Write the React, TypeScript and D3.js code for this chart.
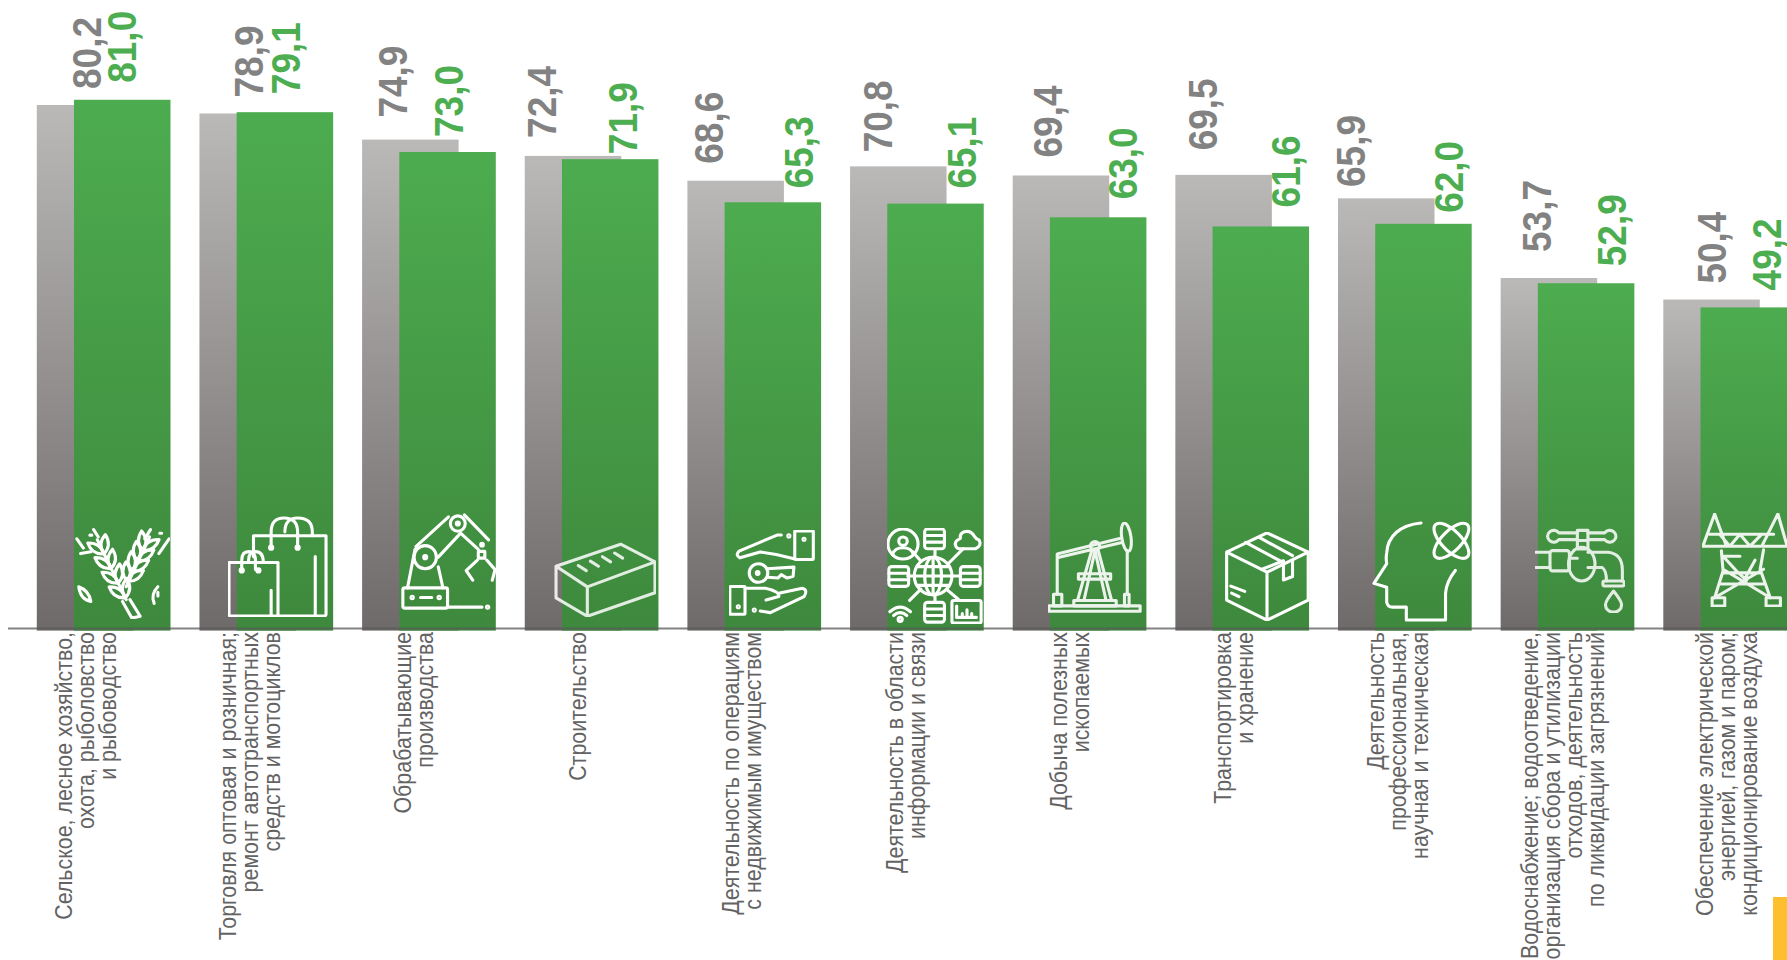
import React from "react";
import * as d3 from "d3";

const categoryLines: string[][] = [
  ["Сельское, лесное хозяйство,", "охота, рыболовство", "и рыбоводство"],
  ["Торговля оптовая и розничная;", "ремонт автотранспортных", "средств и мотоциклов"],
  ["Обрабатывающие", "производства"],
  ["Строительство"],
  ["Деятельность по операциям", "с недвижимым имуществом"],
  ["Деятельность в области", "информации и связи"],
  ["Добыча полезных", "ископаемых"],
  ["Транспортировка", "и хранение"],
  ["Деятельность", "профессиональная,", "научная и техническая"],
  ["Водоснабжение; водоотведение,", "организация сбора и утилизации", "отходов, деятельность", "по ликвидации загрязнений"],
  ["Обеспечение электрической", "энергией, газом и паром;", "кондиционирование воздуха"],
];
const grayValues = [80.2, 78.9, 74.9, 72.4, 68.6, 70.8, 69.4, 69.5, 65.9, 53.7, 50.4];
const greenValues = [81.0, 79.1, 73.0, 71.9, 65.3, 65.1, 63.0, 61.6, 62.0, 52.9, 49.2];

// label placement, separate from the values
const grayLabelDx = [49.8, 49, 31, 16.6, 21.5, 27.6, 34.7, 27, 12.6, 35.6, 48.6];
const greenLabelDx = [85.1, 86.5, 87, 97.5, 111.5, 112, 110, 110, 110.6, 111, 103];
const grayLabelGap = [16, 16, 22, 18, 17, 14, 18, 24.5, 11.4, 26, 16];
const greenLabelGap = [17, 18, 15, 5, 14, 15, 18, 19, 11, 17, 17];

const W = 1787, H = 960;
const idx = d3.range(categoryLines.length);
const x = d3.scaleBand<number>().domain(idx).range([36.8, 36.8 + 162.65 * 10 + 96.5]).paddingInner(1 - 96.5 / 162.65).paddingOuter(0).align(0);
const labelX = d3.scalePoint<number>().domain(idx).range([85.4, 1726.4]);
const y = d3.scaleLinear().domain([0, 80.2]).range([628.6, 105]);
const fmt = d3.formatLocale({ decimal: ",", thousands: " ", grouping: [3], currency: ["", ""] }).format(".1f");
const GREEN_SHIFT = 37.2, BAR_OVERHANG = 2;

const L = (p: string) => <path d={p} />;

const wheatGrains = (x0: number, y0: number, x1: number, y1: number, flip: number) => {
  const ang = (Math.atan2(y1 - y0, x1 - x0) * 180) / Math.PI;
  return d3.range(4).flatMap((i) => {
    const t = i / 3.4;
    const px = x0 + (x1 - x0) * t, py = y0 + (y1 - y0) * t;
    return [-1, 1].map((s) => (
      <path key={`${i}${s}${flip}`} d="M0 0Q10 -8 21 0Q10 8 0 0Z" transform={`translate(${px} ${py}) rotate(${ang + s * 30})`} />
    ));
  });
};

const icons: React.ReactNode[] = [
  <>
    {L("M50 82L60 100L69 98L58 80M54 80L23 15M54 66L79 12")}
    {wheatGrains(53, 78, 27, 24, 0)}
    {wheatGrains(55, 60, 74, 22, 1)}
    <path d="M3 66Q14 70 16 82Q5 80 3 66Z" />
    {L("M88 66Q80 74 84 84M88 72L88 76")}
    {L("M1 14L8 24M19 4L24 12M5 30L16 28M100 14L89 30M80 4L74 14M90 8H92M15 10H17")}
  </>,
  <>
    {L("M25 40V19H99V98Q99 100 97 100H2Q0 100 0 98V46H50V100M43 74V100M88 40V100M0 60V46")}
    {L("M43 30V15Q43 1 56 1Q70 1 70 15V30M57 15Q57 1 70 1Q85 1 85 15V19")}
    {L("M13 53V44Q13 35 20 35Q27 35 27 44V53M20 44Q20 35 27 35Q35 35 35 46")}
    <circle cx={43} cy={31} r={1.6} /><circle cx={70} cy={31} r={1.6} /><circle cx={13} cy={54} r={1.6} /><circle cx={30} cy={54} r={1.6} />
  </>,
  <>
    <rect x={1} y={78} width={48} height={21} rx={2} />
    {L("M49 98H86M6 78L14 38M39 56L44 78M15 35L50 4M39 46L63 21M67 2L93 28M63 21L82 38M20 88H32")}
    <circle cx={25} cy={46} r={12} /><circle cx={25} cy={46} r={1.6} />
    <circle cx={60} cy={11} r={8} /><circle cx={60} cy={11} r={1.6} />
    <circle cx={92} cy={98} r={1.2} /><circle cx={11} cy={88} r={1.2} /><circle cx={40} cy={88} r={1.2} /><circle cx={86} cy={33} r={1.4} />
    <rect x={82} y={40} width={7} height={7} />
    {L("M81 49L69 60L76 70M91 49L100 59L97 70")}
  </>,
  <g opacity={0.85}>
    {L("M2 32L66 2L100 26L33 60ZM2 32V75L33 100L100 68V26M33 60V100")}
    {L("M24 31L32 38M36 25L44 32M48 19L56 26M60 14L68 21")}
  </g>,
  <>
    <rect x={77} y={0} width={22} height={34} rx={1} /><circle cx={88} cy={10} r={1.2} /><circle cx={70} cy={6} r={1.2} />
    {L("M61 5H56L11 24Q6 29 12 32L36 25L55 28L76 33")}
    <circle cx={34} cy={50} r={11} /><circle cx={33} cy={50} r={1.6} />
    {L("M44 45L76 43L75 54L68 56L61 52L57 56L45 55")}
    <rect x={0} y={66} width={18} height={33} rx={1} /><circle cx={10} cy={90} r={1.2} /><circle cx={29} cy={94} r={1.2} />
    {L("M18 68H42Q60 72 58 78L43 82M58 74L86 68Q93 70 88 78L48 97L36 95")}
  </>,
  <>
    <circle cx={48} cy={50} r={20} /><ellipse cx={48} cy={50} rx={9} ry={20} />
    {L("M28 50H68M31 40H65M31 60H65M48 30V70")}
    <circle cx={16} cy={16} r={16} /><circle cx={16} cy={13} r={4.5} />
    {L("M5 27Q7 20 16 20Q25 20 27 27")}
    {[[39, 0], [1, 40], [77, 40], [39, 78]].map(([a, b], i) => (
      <g key={i}><rect x={a} y={b} width={21} height={21} rx={3} />{L(`M${a} ${b + 7}h21M${a} ${b + 14}h21`)}</g>
    ))}
    {L("M76 21H93Q100 18 97 12Q93 10 92 8Q88 1 81 3Q76 5 77 10Q70 13 72 18Q73 21 76 21Z")}
    <rect x={68} y={76} width={31} height={24} rx={2} />
    {L("M73 82V94H94M79 90V94M84 86V94M89 90V94")}
    {L("M26 24L35 34M80 21L64 37M50 22V30M21 50H28M68 50H77M50 70V78M35 64L23 76M62 64L75 75")}
    {L("M2 88Q13 78 24 88M6 92Q13 86 20 92")}
    <circle cx={13} cy={96} r={2.2} />
  </>,
  <g opacity={0.9}>
    <rect x={0} y={93} width={99} height={6} /><rect x={27} y={87} width={46} height={6} />
    <rect x={5} y={80} width={9} height={13} /><rect x={82} y={80} width={5} height={13} />
    {L("M85 31V80M9 35V80M9 35L79 17M9 39L79 22M47 29L31 87M53 29L68 87M50 31L38 87M50 31L62 87")}
    <ellipse cx={84} cy={16} rx={5} ry={16} transform="rotate(-8 84 16)" />
    <circle cx={50} cy={26} r={5} /><rect x={32} y={57} width={35} height={6} />
  </g>,
  <>
    {L("M50 0L100 22V77L50 100L1 77V22ZM1 22L50 45L100 22M50 45V100M43 42L70 32M24 11L70 34M40 5L81 26M70 36V54L81 50V32")}
    {L("M6 61L23 67M7 69L16 73")}
  </>,
  <>
    {L("M49 1C28 3 15 14 14 31Q13 37 14 42L1 62L14 66V81Q15 86 20 86H34V99H74V72Q75 60 84 49")}
    <ellipse cx={80} cy={19} rx={23} ry={10} transform="rotate(45 80 19)" />
    <ellipse cx={80} cy={19} rx={23} ry={10} transform="rotate(-45 80 19)" />
  </>,
  <g opacity={0.85}>
    {L("M0 29H16M0 47H16M38 36H47M57 15H59M47 15V25H59V15M59 29H82Q98 31 98 50V63M59 47H75Q80 50 80 63")}
    <rect x={16} y={27} width={22} height={24} rx={3} />
    <ellipse cx={52} cy={43} rx={15} ry={20} />
    <rect x={47} y={3} width={12} height={12} />
    {L("M47 6H26A7 7 0 1 0 26 14H47M59 6H78A7 7 0 1 1 78 14H59")}
    <rect x={76} y={63} width={24} height={6} rx={2} />
    {L("M88 75Q78 88 79 92A9 8 0 0 0 97 92Q98 88 88 75Z")}
  </g>,
  <g opacity={0.9}>
    {L("M0 35H100M14 0L0 35M14 0L28 35M89 0L100 35M89 0L70 35M8 22H84M20 22L32 35L44 22L56 35L70 22")}
    {L("M22 40L24 62L14 91M72 39L68 60L80 91M24 60L80 91M72 60L14 91M24 46L40 62L52 72M62 50L50 70M24 46H44M24 64H68M20 76H72")}
    <rect x={11} y={91} width={15} height={9} /><rect x={75} y={91} width={17} height={9} />
  </g>,
];
// where each icon sits: left, top, width, height
const iconBoxes = [
  [75, 525, 95, 94], [228, 516, 100, 101], [401, 512, 95, 98], [553, 542, 103, 75],
  [729, 530, 86, 86], [887, 528, 96, 96], [1048, 522, 94, 91], [1225, 532, 84, 89],
  [1372, 521, 100, 101], [1535, 527, 90, 86], [1702, 513, 86, 94],
];

export default function App() {
  return (
    <svg width={W} height={H} viewBox={`0 0 ${W} ${H}`} style={{ position: "fixed", left: 0, top: 0, background: "#fff" }}>
      <style>{`.ic *{vector-effect:non-scaling-stroke}`}</style>
      <defs>
        <linearGradient id="gGray" x1="0" y1="0" x2="0" y2="1">
          <stop offset="0" stopColor="#bab9b7" /><stop offset="1" stopColor="#6f6a6a" />
        </linearGradient>
        <linearGradient id="gGreen" x1="0" y1="0" x2="0" y2="1">
          <stop offset="0" stopColor="#4dac4f" /><stop offset="1" stopColor="#3e893d" />
        </linearGradient>
      </defs>
      {idx.map((i) => (
        <rect key={i} x={x(i)!} y={y(grayValues[i])} width={x.bandwidth()} height={y(0) - y(grayValues[i]) + BAR_OVERHANG} fill="url(#gGray)" />
      ))}
      {idx.map((i) => (
        <rect key={i} x={x(i)! + GREEN_SHIFT} y={y(greenValues[i])} width={x.bandwidth()} height={y(0) - y(greenValues[i]) + BAR_OVERHANG} fill="url(#gGreen)" />
      ))}
      <line x1={8} x2={W} y1={y(0)} y2={y(0)} stroke="#595959" strokeOpacity={0.75} strokeWidth={2} />
      {idx.map((i) => {
        const [a, b, w, h] = iconBoxes[i];
        return (
          <svg key={i} className="ic" x={a} y={b} width={w} height={h} viewBox="-1 -1 102 102" preserveAspectRatio="none" fill="none" stroke="#fff" strokeWidth={3.1} strokeLinecap="round" strokeLinejoin="round">
            {icons[i]}
          </svg>
        );
      })}
      <g fontFamily="'Liberation Sans', Arial, sans-serif" fontWeight={700} fontSize={37}>
        {idx.map((i) => (
          <g key={i}>
            <text transform={`translate(${x(i)! + grayLabelDx[i]},${y(grayValues[i]) - grayLabelGap[i]}) rotate(-90) scale(1,1.1)`} dy=".35em" fill="#828282">{fmt(grayValues[i])}</text>
            <text transform={`translate(${x(i)! + greenLabelDx[i]},${y(greenValues[i]) - greenLabelGap[i]}) rotate(-90) scale(1,1.1)`} dy=".35em" fill="#4cae50">{fmt(greenValues[i])}</text>
          </g>
        ))}
      </g>
      <g fontFamily="'Liberation Sans', Arial, sans-serif" fontSize={21.4} fill="#636363" textAnchor="end">
        {idx.map((i) =>
          categoryLines[i].map((line, j) => {
            const n = categoryLines[i].length;
            return (
              <text key={j} transform={`translate(${labelX(i)! + (j - (n - 1) / 2) * 22},632) rotate(-90) scale(1,1.1)`} dy=".35em">{line}</text>
            );
          })
        )}
      </g>
      <rect x={1773} y={897} width={14} height={63} fill="#fdbf2d" />
    </svg>
  );
}
